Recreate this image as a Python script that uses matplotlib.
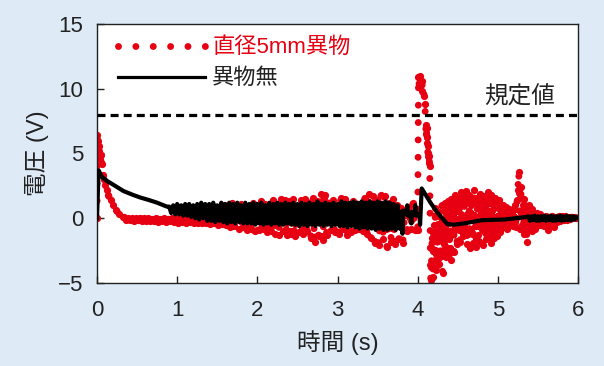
import numpy as np
import matplotlib
matplotlib.use("Agg")
import matplotlib.pyplot as plt
from matplotlib.lines import Line2D

plt.rcParams['font.family'] = ['Liberation Sans', 'Noto Sans CJK JP', 'DejaVu Sans']
plt.rcParams['path.simplify'] = False

# ---- data ----
limit_value = 8.0
limit_label = "規定値"
red_label = "直径5mm異物"
black_label = "異物無"

# red trace: start-up decay (explicit times)
red_start_t = [0.0, 0.004, 0.008, 0.012, 0.02, 0.03, 0.04, 0.05, 0.06, 0.08,
               0.1, 0.12, 0.14, 0.17, 0.2, 0.24, 0.28, 0.32]
red_start_v = [0.0, 6.4, 5.6, 6.0, 5.2, 5.6, 4.6, 4.9, 4.2, 3.3,
               2.6, 2.2, 1.8, 1.4, 1.0, 0.6, 0.3, 0.1]

# red trace: 0.34 s .. 3.99 s, sampled every 0.025 s
red_mid_t0, red_mid_dt = 0.34, 0.025
red_mid_v = [
    0.1, -0.1, 0.05, -0.15, 0.0, -0.2, 0.05, -0.15, 0.0, -0.2,
    0.0, -0.25, 0.05, -0.2, -0.05, -0.25, 0.0, -0.3, -0.05, -0.25,
    0.0, -0.3, -0.05, -0.25, 0.05, -0.3, 0.0, -0.35, 0.1, -0.3,
    0.0, -0.35, 0.1, -0.3, 0.0, -0.4, 0.2, -0.35, 0.1, -0.4,
    0.2, -0.4, 0.0, -0.45, 0.3, -0.4, 0.1, -0.5, 0.6, -0.45,
    1.0, -0.5, 0.4, -0.7, 1.2, -0.6, 0.3, -0.8, 1.1, -0.7,
    0.9, -0.9, 0.5, -0.8, 1.2, -1.0, 0.4, -0.9, 1.3, -0.8,
    1.1, -1.1, 0.6, -1.0, 1.4, -1.2, 0.8, -1.3, 1.5, -1.0,
    1.4, -1.3, 1.3, -1.2, 1.5, -1.4, 0.9, -1.1, 1.4, -1.2,
    1.5, -1.0, 1.2, -1.5, 1.6, -1.8, 1.3, -1.4, 1.9, -1.7,
    1.8, -1.3, 1.2, -0.9, 1.4, -1.1, 0.8, -1.2, 1.6, -0.8,
    1.5, -1.3, 1.0, -1.1, 1.3, -0.9, 1.1, -0.8, 0.9, -1.0,
    1.6, -1.2, 1.9, -1.5, 1.7, -1.9, 1.4, -2.1, 1.8, -1.6,
    1.7, -2.2, 1.2, -1.8, 1.5, -2.0, 1.0, -1.6, 0.8, -1.9,
    0.6, -1.0, 0.9, -0.8, 1.2, -0.9, -0.9,
]

# red trace: the spike near 4 s (explicit times)
red_spike_t = [4.0, 4.01, 4.02, 4.03, 4.04, 4.05, 4.06, 4.08, 4.09, 4.1,
               4.105, 4.11, 4.115, 4.12, 4.125, 4.13, 4.135, 4.14, 4.15, 4.16]
red_spike_v = [-0.9, 10.9, 10.2, 11.0, 10.4, 9.8, 10.6, 9.4, 8.8, 7.2,
               6.5, 7.0, 5.8, 6.3, 5.0, 5.6, 4.3, 4.8, 4.0, -4.8]

# red trace: 4.17 s .. 5.56 s, sampled every 0.01 s
red_after_t0, red_after_dt = 4.17, 0.01
red_after_v = [
    -3.8, -1.5, -4.5, -0.5, -3.2, 0.8, -4.0, -1.0, -2.5, 0.5,
    -3.5, -0.8, -2.8, 1.0, -4.2, -0.3, -2.0, 1.2, -3.0, 0.2,
    -2.4, 1.3, -1.6, 0.6, -3.2, 1.5, -1.2, 0.9, -2.6, 1.8,
    -0.6, 1.2, -2.0, 1.6, -0.9, 1.0, -1.8, 2.0, -0.5, 1.4,
    -1.4, 1.7, -0.8, 2.1, -2.0, 1.3, -1.2, 1.8, -2.3, 1.0,
    -1.0, 1.5, -1.9, 2.2, -0.6, 1.2, -2.2, 1.6, -1.3, 0.8,
    -1.8, 1.9, -0.7, 1.4, -2.1, 1.1, -1.0, 1.7, -1.6, 0.6,
    -1.2, 2.0, -0.5, 1.3, -1.9, 1.8, -0.8, 1.0, -1.5, 1.6,
    -0.9, 1.2, -1.4, 0.8, -0.6, 1.4, -1.1, 0.5, -0.4, 1.0,
    -0.7, 0.6, -0.3, 0.9, -0.8, 0.4, -0.5, 0.7, -0.2, 0.3,
    -0.4, 0.5, -0.6, 0.8, -0.3, 1.0, -0.7, 1.4, 2.2, 3.6,
    1.6, -0.8, 2.4, -0.5, 1.0, -1.2, 1.5, -0.4, 0.8, -1.8,
    0.6, -0.9, 1.0, -0.6, 0.4, -1.0, 0.7, -0.5, 0.3, -0.8,
    0.2, -0.6, 0.4, -0.5, 0.1, -0.4, 0.3, -0.5, 0.1, -0.3,
]

# red trace: tail 5.58 s .. 6.0 s, sampled every 0.02 s
red_tail_t0, red_tail_dt = 5.58, 0.02
red_tail_v = [-0.6, 0.2, -0.9, 0.1, -0.5, 0.2, -0.7, 0.1, -0.3, 0.2, -0.2,
              0.15, -0.1, 0.15, -0.1, 0.1, -0.05, 0.1, 0.0, 0.1, 0.0, 0.05]

# black trace: start-up decay
black_start_t = [0.0, 0.02, 0.06, 0.12, 0.2, 0.33, 0.45, 0.54, 0.65, 0.75, 0.87]
black_start_v = [0.0, 3.7, 3.2, 2.9, 2.6, 2.1, 1.8, 1.6, 1.4, 1.2, 0.9]

# black trace: ripple 0.9 s .. 3.775 s, sampled every 0.025 s
black_mid_t0, black_mid_dt = 0.9, 0.025
black_mid_v = [
    0.9, 0.4, 1.0, 0.3, 1.1, 0.3, 1.0, 0.2, 1.1, 0.2,
    1.1, 0.1, 1.0, 0.0, 1.1, -0.1, 1.2, 0.0, 1.1, -0.2,
    1.1, -0.2, 1.2, -0.3, 1.0, -0.2, 1.2, -0.3, 1.1, -0.4,
    1.2, -0.3, 1.1, -0.4, 1.2, -0.3, 1.0, -0.4, 1.2, -0.4,
    1.1, -0.4, 1.2, -0.5, 1.1, -0.4, 1.2, -0.5, 1.0, -0.4,
    1.2, -0.5, 1.1, -0.4, 1.2, -0.5, 1.1, -0.5, 1.2, -0.4,
    1.1, -0.5, 1.2, -0.5, 1.1, -0.6, 1.2, -0.5, 1.1, -0.6,
    1.2, -0.5, 1.1, -0.6, 1.3, -0.5, 1.1, -0.6, 1.2, -0.5,
    1.1, -0.6, 1.2, -0.5, 1.1, -0.6, 1.3, -0.6, 1.2, -0.7,
    1.2, -0.6, 1.3, -0.7, 1.2, -0.8, 1.3, -0.7, 1.2, -0.8,
    1.3, -0.8, 1.2, -0.9, 1.3, -0.8, 1.2, -0.9, 1.3, -0.9,
    1.2, -0.8, 1.1, -0.9, 1.0, -0.8,
]

# black trace: bump near 4 s and settling (explicit times)
black_bump_t = [3.8, 3.81, 3.82, 3.86, 3.87, 3.88, 3.91, 3.92, 3.93, 3.96, 3.97,
                3.98, 4.02, 4.03, 4.05, 4.1, 4.16, 4.25, 4.37, 4.45, 4.58, 4.8,
                5.08, 5.36]
black_bump_v = [0.5, -1.2, 0.6, 0.3, 1.0, 0.2, 0.4, -0.4, 0.5, 0.3, 1.0,
                0.2, 0.3, -0.5, 2.3, 1.8, 1.2, 0.4, -0.45, -0.5, -0.4, -0.15,
                -0.1, 0.1]

# black trace: tail 5.38 s .. 6.0 s, sampled every 0.02 s
black_tail_t0, black_tail_dt = 5.38, 0.02
black_tail_v = [0.15, -0.2, 0.15, -0.15, 0.2, -0.2, 0.15, -0.2, 0.15, -0.15,
                0.2, -0.2, 0.15, -0.15, 0.2, -0.2, 0.15, -0.2, 0.15, -0.15,
                0.2, -0.2, 0.15, -0.15, 0.2, -0.15, 0.15, -0.15, 0.15, -0.1,
                0.1, 0.05]

x_ticks = [0, 1, 2, 3, 4, 5, 6]
y_ticks = [-5, 0, 5, 10, 15]


def sampled(t0, dt, values):
    t = t0 + dt * np.arange(len(values))
    return list(t), list(values)


def join(*parts):
    t, v = [], []
    for pt, pv in parts:
        t += list(pt)
        v += list(pv)
    return np.array(t), np.array(v)


red_t, red_v = join((red_start_t, red_start_v),
                    sampled(red_mid_t0, red_mid_dt, red_mid_v),
                    (red_spike_t, red_spike_v),
                    sampled(red_after_t0, red_after_dt, red_after_v),
                    sampled(red_tail_t0, red_tail_dt, red_tail_v))
black_t, black_v = join((black_start_t, black_start_v),
                        sampled(black_mid_t0, black_mid_dt, black_mid_v),
                        (black_bump_t, black_bump_v),
                        sampled(black_tail_t0, black_tail_dt, black_tail_v))

# ---- figure ----
RED = "#e60012"
BG = "#deebf7"
red_dots = dict(color=RED, lw=5.0, linestyle=(0, (0.001, 2.5)),
                dash_capstyle="round")

fig = plt.figure(figsize=(6.04, 3.66), dpi=100, facecolor=BG)
ax = fig.add_axes([0.1606, 0.2268, 0.7964, 0.7077])
ax.set_facecolor("white")

# dotted trace plus a dot at every sample, as in the scope capture
ax.plot(red_t, red_v, marker="o", ms=5.2, mew=0, zorder=2, **red_dots)
ax.plot(black_t, black_v, color="black", lw=3.0, zorder=3)
ax.axhline(limit_value, color="black", lw=2.3, linestyle=(0, (2.5, 1.6)), zorder=4)
ax.text(5.27, limit_value + 1.3, limit_label, ha="center", va="center",
        fontsize=17, color="#222222")

ax.set_xlim(0, 6)
ax.set_ylim(-5, 15)
ax.set_xticks(x_ticks)
ax.set_yticks(y_ticks)
ax.tick_params(direction="in", length=5, width=1, labelsize=16, color="#222222",
               labelcolor="#222222")
ax.tick_params(axis="x", pad=12)
ax.tick_params(axis="y", pad=10)
for s in ax.spines.values():
    s.set_linewidth(1.0)
    s.set_color("#222222")

ax.set_xlabel("時間 (s)", fontsize=17, labelpad=7, color="#222222")
ax.set_ylabel("電圧 (V)", fontsize=17, labelpad=6, color="#222222")

handles = [Line2D([], [], **red_dots), Line2D([], [], color="black", lw=2.3)]
leg = ax.legend(handles, [red_label, black_label], loc="upper left",
                bbox_to_anchor=(0.043, 0.948), frameon=False,
                fontsize=16, handlelength=3.95, handletextpad=0.3,
                labelspacing=0.45, borderpad=0, borderaxespad=0)
leg.get_texts()[0].set_color(RED)
leg.get_texts()[1].set_color("#222222")

fig.savefig("out.png", dpi=100, facecolor=BG)
